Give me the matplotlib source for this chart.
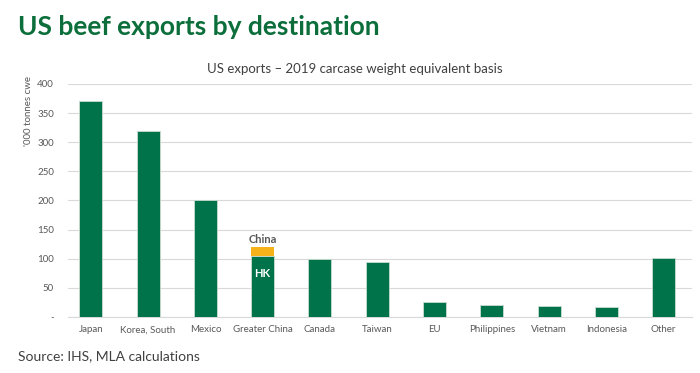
import numpy as np
import matplotlib
matplotlib.use("Agg")
import matplotlib.pyplot as plt

plt.rcParams['font.family'] = ['Lato', 'DejaVu Sans']

# data ('000 tonnes cwe, 2019)
destinations = ["Japan", "Korea, South", "Mexico", "Greater China", "Canada",
                "Taiwan", "EU", "Philippines", "Vietnam", "Indonesia", "Other"]
exports = [370, 319, 200, 104, 100, 94, 26, 21, 19, 17, 101]
china_extra = [0, 0, 0, 16, 0, 0, 0, 0, 0, 0, 0]   # China on top of HK
y_ticks = [0, 50, 100, 150, 200, 250, 300, 350, 400]
y_tick_labels = ["-", "50", "100", "150", "200", "250", "300", "350", "400"]

green = "#00734a"
orange = "#f5b21a"
grey_txt = "#595959"

fig = plt.figure(figsize=(7, 3.73), dpi=100)
ax = fig.add_axes([0.097, 0.150, 0.892, 0.625])

x = np.arange(len(destinations))
ax.bar(x, exports, width=0.4, color=green, edgecolor="#c8dccf", linewidth=0.6, zorder=3)
ax.bar(x, china_extra, bottom=exports, width=0.4, color=orange, linewidth=0, zorder=3)

gc = destinations.index("Greater China")
ax.text(gc, exports[gc] - 29, "HK", color="white", fontsize=8, fontweight="bold",
        ha="center", va="center", zorder=4)
ax.text(gc, exports[gc] + china_extra[gc] + 4, "China", color=grey_txt, fontsize=8,
        fontweight="bold", ha="center", va="bottom", zorder=4)

ax.set_xlim(-0.4, len(destinations) - 0.5)
ax.set_ylim(0, 400)
ax.set_yticks(y_ticks)
ax.set_yticklabels(y_tick_labels)
ax.set_xticks(x)
ax.set_xticklabels(destinations)
ax.tick_params(axis="both", length=0, labelsize=7, colors=grey_txt)
ax.tick_params(axis="x", pad=6)
ax.tick_params(axis="y", pad=10)
ax.grid(axis="y", color="#d9d9d9", linewidth=0.8, zorder=0)
for s in ["top", "right", "left"]:
    ax.spines[s].set_visible(False)
ax.spines["bottom"].set_color("#d9d9d9")

fig.text(0.041, 0.795, "'000 tonnes cwe", rotation=90, fontsize=7, color=grey_txt,
         ha="center", va="top")

fig.text(0.025, 0.928, "US beef exports by destination", fontsize=19, fontweight="bold",
         color="#0b6e3b", ha="left", va="center")
fig.text(0.507, 0.815, "US exports \u2013 2019 carcase weight equivalent basis",
         fontsize=9.5, color="#404040", ha="center", va="center")
fig.text(0.025, 0.045, "Source: IHS, MLA calculations", fontsize=10, color="#404040",
         ha="left", va="center")

fig.savefig("out.png", dpi=100)
